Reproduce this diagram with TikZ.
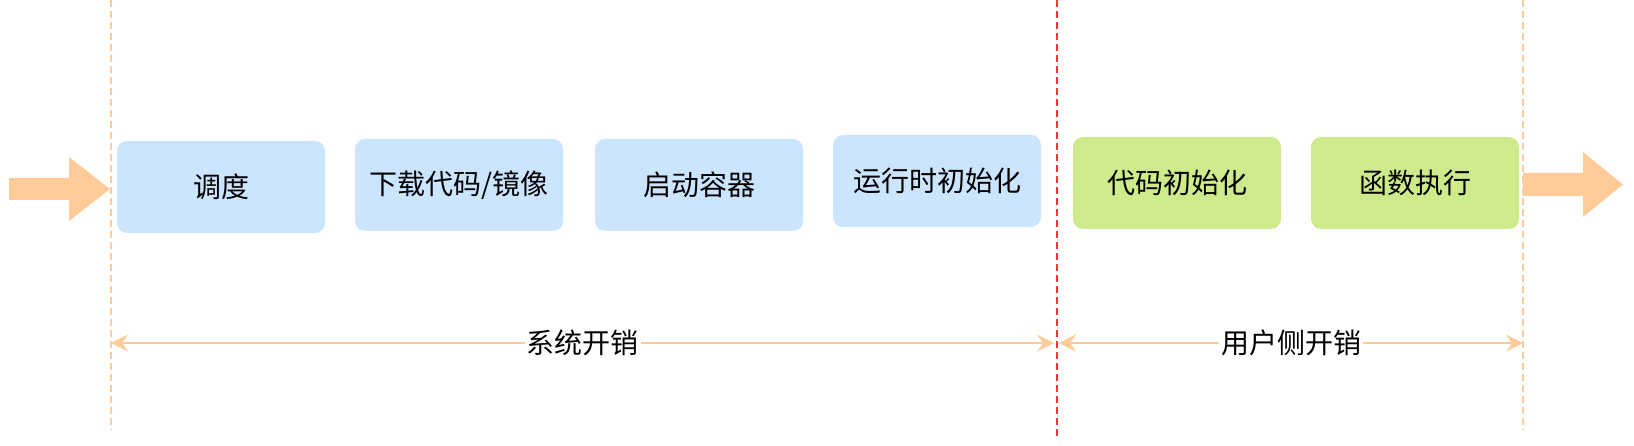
\documentclass[tikz,border=0pt]{standalone}
\usepackage{fontspec}
\newfontfamily\cjk{Noto Sans CJK SC}
\usetikzlibrary{arrows.meta, positioning, calc}
\definecolor{boxblue}{HTML}{CCE5FF}
\definecolor{boxgreen}{HTML}{CDEB8B}
\definecolor{peach}{HTML}{FFCC99}
\definecolor{splitred}{HTML}{FF3333}

\begin{document}
\begin{tikzpicture}[
  x=1pt, y=-1pt,
  block/.style  = {rounded corners=10pt, minimum height=92pt, minimum width=208pt,
                   inner sep=0pt, align=center, font=\cjk\fontsize{28}{32}\selectfont},
  sysbox/.style = {block, fill=boxblue},
  usrbox/.style = {block, fill=boxgreen},
  guide/.style  = {peach, line width=2pt, dash pattern=on 7pt off 4pt},
  split/.style  = {splitred, line width=2pt, dash pattern=on 7pt off 4pt},
  arrow/.style  = {peach, line width=2pt,
                   {Stealth[length=17pt, width=17pt, inset=6pt]}-{Stealth[length=17pt, width=17pt, inset=6pt]}},
  span/.style   = {fill=white, inner sep=2pt, text=black, font=\cjk\fontsize{28}{32}\selectfont}
]
  \useasboundingbox (0,0) rectangle (1634,446);

  % phase boxes
  \node[sysbox] (sched)  at (221,187) {调度};
  \node[sysbox] (fetch)  at (459,185) {下载代码/镜像};
  \node[sysbox] (boot)   at (699,185) {启动容器};
  \node[sysbox] (rtinit) at (937,181) {运行时初始化};
  \node[usrbox] (cinit)  at (1177,183) {代码初始化};
  \node[usrbox] (run)    at (1415,183) {函数执行};

  % guide lines
  \coordinate (gl) at (111,0);
  \coordinate (gm) at (1057,0);
  \coordinate (gr) at (1523,0);
  \draw[guide] (gl) -- ++(0,430);
  \draw[guide] (gr) -- ++(0,430);
  \draw[split] (gm) -- ++(0,437);

  % in / out arrows
  \fill[peach] (9,178) -- (69,178) -- (69,157) -- (110,189) -- (69,221) -- (69,200) -- (9,200) -- cycle;
  \fill[peach] (1523,173) -- (1583,173) -- (1583,152) -- (1623,184.5) -- (1583,217) -- (1583,196) -- (1523,196) -- cycle;

  % spans
  \coordinate (sysL) at (111,343);
  \coordinate (sysR) at (1054,343);
  \coordinate (usrL) at (1059,343);
  \coordinate (usrR) at (1523,343);
  \draw[arrow] (sysL) -- (sysR) node[span, midway] (syscost) {系统开销};
  \draw[arrow] (usrL) -- (usrR) node[span, midway] (usrcost) {用户侧开销};

\end{tikzpicture}
\end{document}
